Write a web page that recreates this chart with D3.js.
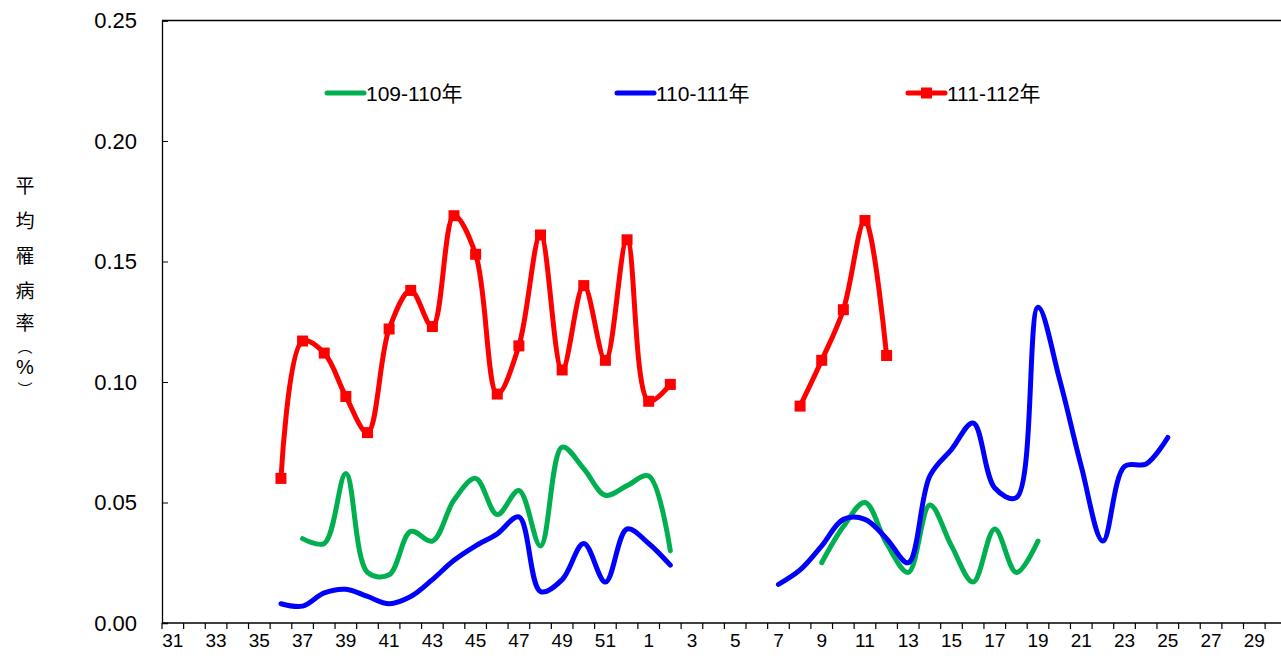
<!DOCTYPE html>
<meta charset="utf-8">
<script src="https://d3js.org/d3.v7.min.js"></script>
<style>
  body { margin: 0; background: #fff; }
  text { font-family: "Liberation Sans", Arial, sans-serif; }
</style>
<div id="graph"></div>
<script>
// weeks: 31..52 then 1..30
var weeks = [31,32,33,34,35,36,37,38,39,40,41,42,43,44,45,46,47,48,49,50,51,52,
             1,2,3,4,5,6,7,8,9,10,11,12,13,14,15,16,17,18,19,20,21,22,23,24,25,26,27,28,29,30];

var seriesNames = ["109-110年", "110-111年", "111-112年"];

// 109-110
var green = [null,null,null,null,null,null,0.035,0.033,0.062,0.021,0.020,0.038,0.034,0.051,0.060,0.045,0.055,0.032,0.073,0.064,0.053,0.057,
             0.061,0.030,null,null,null,null,null,null,0.025,0.040,0.050,0.033,0.021,0.049,0.032,0.017,0.039,0.021,0.034,
             null,null,null,null,null,null,null,null,null,null,null];
// 110-111
var blue = [null,null,null,null,null,0.008,0.007,0.0125,0.014,0.011,0.008,0.011,0.018,0.026,0.032,0.037,0.044,0.013,0.018,0.033,0.017,0.039,
            0.033,0.024,null,null,null,null,0.016,0.022,0.032,0.043,0.043,0.035,0.025,0.061,0.072,0.083,0.056,0.052,0.131,
            0.101,0.065,0.034,0.065,0.066,0.077,null,null,null,null,null];
// 111-112
var red = [null,null,null,null,null,0.060,0.117,0.112,0.094,0.079,0.122,0.138,0.123,0.169,0.153,0.095,0.115,0.161,0.105,0.140,0.109,0.159,
           0.092,0.099,null,null,null,null,null,0.090,0.109,0.130,0.167,0.111,null,null,null,null,null,null,null,
           null,null,null,null,null,null,null,null,null,null,null];

var yTicks = [0, 0.05, 0.10, 0.15, 0.20, 0.25];

var width = 1281, height = 660;
var margin = {top: 20.5, left: 162, bottom: 37};

var svg = d3.select("#graph").append("svg")
  .attr("width", width)
  .attr("height", height);

var keys = weeks.map(function(d, i) { return i; });

var x = d3.scaleBand()
  .domain(keys)
  .range([margin.left, margin.left + 21.63 * weeks.length])
  .padding(0);

var y = d3.scaleLinear()
  .domain([0, 0.25])
  .range([height - margin.bottom, margin.top]);

// frame top line
svg.append("line")
  .attr("x1", margin.left).attr("x2", width + 10)
  .attr("y1", y(0.25)).attr("y2", y(0.25))
  .attr("stroke", "#000").attr("stroke-width", 1.3);

// y axis (ticks inside)
var yAxis = d3.axisRight(y)
  .tickValues(yTicks)
  .tickSize(6)
  .tickFormat(d3.format(".2f"));
var gy = svg.append("g")
  .attr("transform", "translate(" + margin.left + ",0)")
  .call(yAxis);
gy.select(".domain").attr("stroke", "#000").attr("stroke-width", 1.3);
gy.selectAll("text")
  .attr("x", -25)
  .attr("text-anchor", "end")
  .attr("font-size", "22px")
  .attr("fill", "#000");

// x axis: labels centered, ticks on band boundaries
var xAxis = d3.axisBottom(x)
  .tickSize(0)
  .tickFormat(function(i) { return i % 2 === 0 ? weeks[i] : ""; });
var gx = svg.append("g")
  .attr("transform", "translate(0," + y(0) + ")")
  .call(xAxis);
gx.select(".domain").remove();
gx.selectAll("text")
  .attr("y", 11)
  .attr("font-size", "19px")
  .attr("fill", "#000");

svg.append("line")
  .attr("x1", margin.left).attr("x2", width + 10)
  .attr("y1", y(0)).attr("y2", y(0))
  .attr("stroke", "#000").attr("stroke-width", 1.5);

svg.append("g").selectAll("line")
  .data(keys.concat([weeks.length]))
  .enter().append("line")
  .attr("x1", function(i) { return margin.left + i * x.bandwidth(); })
  .attr("x2", function(i) { return margin.left + i * x.bandwidth(); })
  .attr("y1", y(0))
  .attr("y2", y(0) + 6)
  .attr("stroke", "#000")
  .attr("stroke-width", 1.2);

// y axis title, stacked vertically
var titleChars = ["平", "均", "罹", "病", "率", "︵", "%", "︶"];
var titleY = [193, 228, 263, 298, 330, 352, 374, 395];
var titleSize = [19, 19, 19, 19, 19, 15, 20, 15];
svg.append("g").selectAll("text")
  .data(titleChars)
  .enter().append("text")
  .attr("x", 25)
  .attr("y", function(d, i) { return titleY[i]; })
  .attr("text-anchor", "middle")
  .style("font-family", function(d) { return d === "%" ? "'Liberation Sans', Arial, sans-serif" : "'Noto Sans CJK TC', sans-serif"; })
  .attr("font-size", function(d, i) { return titleSize[i] + "px"; })
  .attr("fill", "#000")
  .text(function(d) { return d; });

// lines
var colors = ["#00B050", "#0000FF", "#FF0000"];
var allSeries = [green, blue, red];

var line = d3.line()
  .defined(function(d) { return d != null; })
  .x(function(d, i) { return x(i) + x.bandwidth() / 2; })
  .y(function(d) { return y(d); })
  .curve(d3.curveCatmullRom.alpha(0.5));

allSeries.forEach(function(s, k) {
  svg.append("path")
    .datum(s)
    .attr("d", line)
    .attr("fill", "none")
    .attr("stroke", colors[k])
    .attr("stroke-width", 5)
    .attr("stroke-linejoin", "round")
    .attr("stroke-linecap", "round");
});

// red square markers
svg.append("g").selectAll("rect")
  .data(red.map(function(v, i) { return {v: v, i: i}; }).filter(function(d) { return d.v != null; }))
  .enter().append("rect")
  .attr("x", function(d) { return x(d.i) + x.bandwidth() / 2 - 5.5; })
  .attr("y", function(d) { return y(d.v) - 5.5; })
  .attr("width", 11)
  .attr("height", 11)
  .attr("fill", "#FF0000");

// legend
var legendX = [327, 617, 908];
var legend = svg.append("g").selectAll("g")
  .data(seriesNames)
  .enter().append("g")
  .attr("transform", function(d, i) { return "translate(" + legendX[i] + ",93)"; });
legend.append("line")
  .attr("x1", 0).attr("x2", 37)
  .attr("stroke", function(d, i) { return colors[i]; })
  .attr("stroke-width", 5)
  .attr("stroke-linecap", "round");
legend.filter(function(d, i) { return i === 2; })
  .append("rect")
  .attr("x", 13).attr("y", -5.5).attr("width", 11).attr("height", 11)
  .attr("fill", "#FF0000");
legend.append("text")
  .attr("x", 39)
  .attr("y", 7.5)
  .attr("font-size", "21px")
  .attr("fill", "#000")
  .style("font-family", "'Liberation Sans', 'Noto Sans CJK TC', sans-serif")
  .text(function(d) { return d; });
</script>
